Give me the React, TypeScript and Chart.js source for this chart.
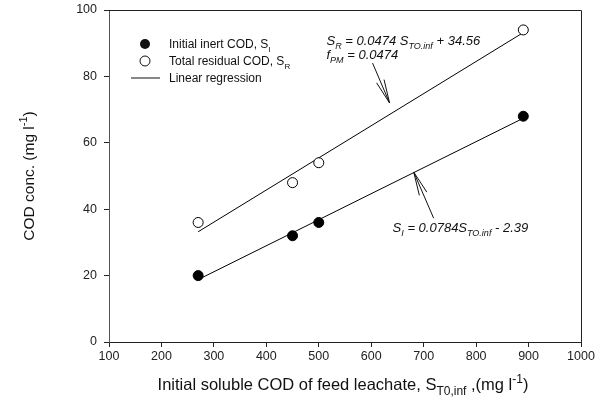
import React, { useEffect, useRef } from "react";
import { Chart, registerables } from "chart.js";

Chart.register(...registerables);

const feedCOD = [270, 450, 500, 890];
const inertCOD = [20, 32, 36, 68];
const residualCOD = [36, 48, 54, 94];
const regX = [270, 890];
const inertFit = [18.8, 67.4];
const residualFit = [33.2, 93.2];
const xTicks = [100, 200, 300, 400, 500, 600, 700, 800, 900, 1000];
const yTicks = [0, 20, 40, 60, 80, 100];

type Part = { t: string; sub?: boolean; sup?: boolean };

const FONT = "'Liberation Sans', Arial, sans-serif";

function drawRich(ctx: CanvasRenderingContext2D, parts: Part[], x: number, y: number, size: number, italic: boolean, align: "left" | "center" = "left") {
  const style = italic ? "italic " : "";
  const small = Math.round(size * 0.7);
  const widths = parts.map((p) => {
    ctx.font = `${style}${p.sub || p.sup ? small : size}px ${FONT}`;
    return ctx.measureText(p.t).width;
  });
  const total = widths.reduce((a, b) => a + b, 0);
  let cx = align === "center" ? x - total / 2 : x;
  ctx.textBaseline = "alphabetic";
  ctx.textAlign = "left";
  parts.forEach((p, i) => {
    ctx.font = `${style}${p.sub || p.sup ? small : size}px ${FONT}`;
    let dy = 0;
    if (p.sub) dy = size * 0.3;
    if (p.sup) dy = -size * 0.45;
    ctx.fillText(p.t, cx, y + dy);
    cx += widths[i];
  });
}

function arrow(ctx: CanvasRenderingContext2D, x1: number, y1: number, x2: number, y2: number) {
  ctx.beginPath();
  ctx.moveTo(x1, y1);
  ctx.lineTo(x2, y2);
  const ang = Math.atan2(y2 - y1, x2 - x1);
  const len = 24;
  const spread = 0.17;
  ctx.moveTo(x2, y2);
  ctx.lineTo(x2 - len * Math.cos(ang - spread), y2 - len * Math.sin(ang - spread));
  ctx.moveTo(x2, y2);
  ctx.lineTo(x2 - len * Math.cos(ang + spread), y2 - len * Math.sin(ang + spread));
  ctx.stroke();
}

const decorPlugin = {
  id: "decor",
  afterDraw(chart: any) {
    const { ctx, chartArea, scales } = chart;
    const xs = scales.x;
    const ys = scales.y;
    ctx.save();
    // frame top/right
    ctx.strokeStyle = "#222";
    ctx.lineWidth = 1;
    ctx.beginPath();
    ctx.moveTo(chartArea.left, chartArea.top + 0.5);
    ctx.lineTo(chartArea.right + 0.5, chartArea.top + 0.5);
    ctx.lineTo(chartArea.right + 0.5, chartArea.bottom);
    ctx.stroke();

    ctx.fillStyle = "#111";
    // legend
    const lx = chartArea.left + 36;
    const tx = chartArea.left + 60;
    const r1 = chartArea.top + 34;
    const r2 = chartArea.top + 51;
    const r3 = chartArea.top + 68;
    ctx.beginPath();
    ctx.arc(lx, r1, 5, 0, Math.PI * 2);
    ctx.fill();
    ctx.beginPath();
    ctx.fillStyle = "#fff";
    ctx.arc(lx, r2, 5, 0, Math.PI * 2);
    ctx.fill();
    ctx.strokeStyle = "#111";
    ctx.stroke();
    ctx.beginPath();
    ctx.moveTo(lx - 14, r3);
    ctx.lineTo(lx + 15, r3);
    ctx.stroke();
    ctx.fillStyle = "#111";
    drawRich(ctx, [{ t: "Initial inert COD, S" }, { t: "I", sub: true }], tx, r1 + 4, 12, false);
    drawRich(ctx, [{ t: "Total residual COD, S" }, { t: "R", sub: true }], tx, r2 + 4, 12, false);
    drawRich(ctx, [{ t: "Linear regression" }], tx, r3 + 4, 12, false);

    // annotations
    drawRich(ctx, [{ t: "S" }, { t: "R", sub: true }, { t: " = 0.0474 S" }, { t: "TO.inf", sub: true }, { t: " + 34.56" }], xs.getPixelForValue(514.7), ys.getPixelForValue(89.5), 13, true);
    drawRich(ctx, [{ t: "f" }, { t: "PM", sub: true }, { t: " = 0.0474" }], xs.getPixelForValue(514.7), ys.getPixelForValue(85.2), 13, true);
    drawRich(ctx, [{ t: "S" }, { t: "I", sub: true }, { t: " = 0.0784S" }, { t: "TO.inf", sub: true }, { t: " - 2.39" }], xs.getPixelForValue(640.8), ys.getPixelForValue(33.1), 13, true);
    ctx.strokeStyle = "#111";
    ctx.lineWidth = 1;
    arrow(ctx, xs.getPixelForValue(602.6), ys.getPixelForValue(84.0), xs.getPixelForValue(635), ys.getPixelForValue(72));
    arrow(ctx, xs.getPixelForValue(719), ys.getPixelForValue(37.3), xs.getPixelForValue(681), ys.getPixelForValue(51.2));

    // axis titles
    ctx.fillStyle = "#111";
    drawRich(
      ctx,
      [{ t: "Initial soluble COD of feed leachate, S" }, { t: "T0,inf", sub: true }, { t: " ,(mg l" }, { t: "-1", sup: true }, { t: ")" }],
      (chartArea.left + chartArea.right) / 2 - 2,
      390,
      16.5,
      false,
      "center"
    );
    ctx.save();
    ctx.translate(34, (chartArea.top + chartArea.bottom) / 2);
    ctx.rotate(-Math.PI / 2);
    drawRich(ctx, [{ t: "COD conc. (mg l" }, { t: "-1", sup: true }, { t: ")" }], 0, 0, 15.5, false, "center");
    ctx.restore();
    ctx.restore();
  },
};

export default function App() {
  const ref = useRef<HTMLCanvasElement | null>(null);
  useEffect(() => {
    document.body.style.margin = "0";
    const canvas = ref.current!;
    const chart = new Chart(canvas, {
      type: "scatter",
      data: {
        datasets: [
          {
            label: "Initial inert COD",
            data: feedCOD.map((x, i) => ({ x, y: inertCOD[i] })),
            backgroundColor: "#000",
            borderColor: "#000",
            pointRadius: 5,
            borderWidth: 1,
          },
          {
            label: "Total residual COD",
            data: feedCOD.map((x, i) => ({ x, y: residualCOD[i] })),
            backgroundColor: "#fff",
            borderColor: "#000",
            pointRadius: 5,
            borderWidth: 1,
          },
          {
            type: "line",
            label: "fit I",
            data: regX.map((x, i) => ({ x, y: inertFit[i] })),
            borderColor: "#000",
            borderWidth: 1,
            pointRadius: 0,
            showLine: true,
            order: 5,
          } as any,
          {
            type: "line",
            label: "fit R",
            data: regX.map((x, i) => ({ x, y: residualFit[i] })),
            borderColor: "#000",
            borderWidth: 1,
            pointRadius: 0,
            showLine: true,
            order: 5,
          } as any,
        ],
      },
      options: {
        animation: false,
        responsive: false,
        layout: { padding: { left: 0, top: 10, right: 21, bottom: 0 } },
        plugins: { legend: { display: false }, tooltip: { enabled: false } },
        scales: {
          x: {
            type: "linear",
            min: 100,
            max: 1000,
            afterFit: (s: any) => {
              s.height = 61;
              s.paddingLeft = 0;
              s.paddingRight = 0;
            },
            afterBuildTicks: (s: any) => {
              s.ticks = xTicks.map((v) => ({ value: v }));
            },
            grid: { drawOnChartArea: false, tickLength: 5, color: "#222" },
            border: { color: "#222", width: 1 },
            ticks: { color: "#222", font: { family: FONT, size: 12.5 }, padding: 2, maxRotation: 0, callback: (v: any) => String(v) },
          },
          y: {
            type: "linear",
            min: 0,
            max: 100,
            afterFit: (s: any) => {
              s.width = 109;
              s.paddingTop = 0;
              s.paddingBottom = 0;
            },
            afterBuildTicks: (s: any) => {
              s.ticks = yTicks.map((v) => ({ value: v }));
            },
            grid: { drawOnChartArea: false, tickLength: 5, color: "#222" },
            border: { color: "#555", width: 1 },
            ticks: { color: "#222", font: { family: FONT, size: 12.5 }, padding: 7, callback: (v: any) => String(v) },
          },
        },
      },
      plugins: [decorPlugin],
    });
    return () => chart.destroy();
  }, []);
  return <canvas ref={ref} width={602} height={403} style={{ display: "block" }} />;
}
